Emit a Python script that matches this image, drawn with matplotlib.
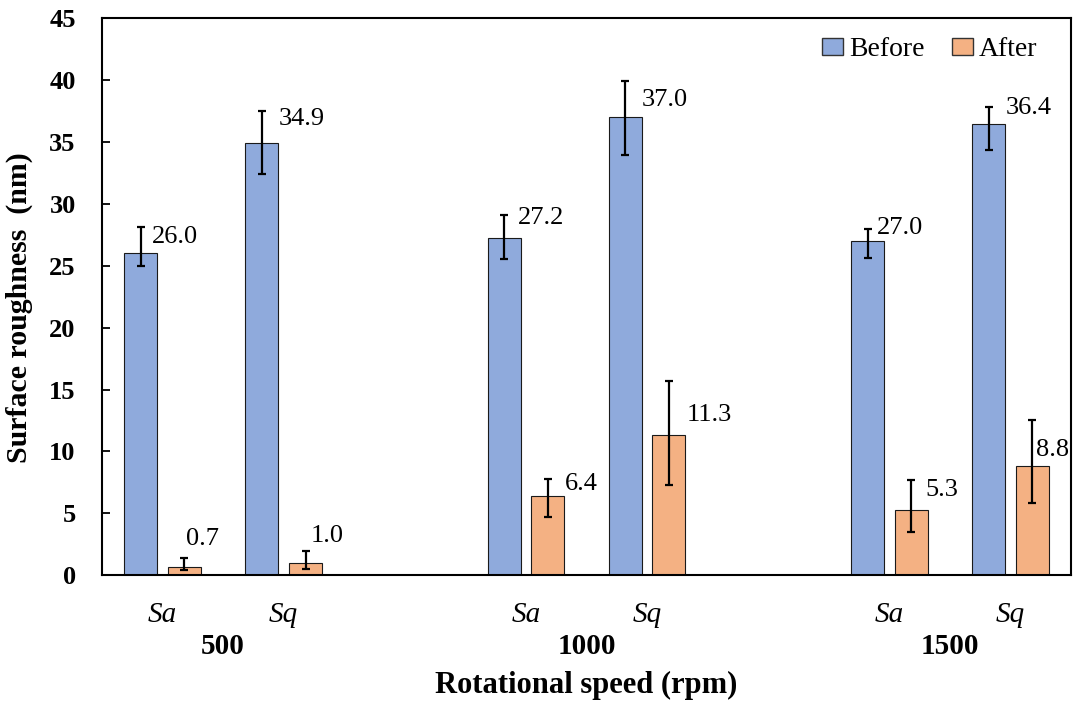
import matplotlib
matplotlib.use("Agg")
import matplotlib.pyplot as plt
from matplotlib.patches import Patch
from matplotlib.transforms import blended_transform_factory

# surface roughness before / after, per rotational speed and parameter
speeds = ["500", "1000", "1500"]
params = ["Sa", "Sq"]

before = [26.0, 34.9, 27.2, 37.0, 27.0, 36.4]
after = [0.7, 1.0, 6.4, 11.3, 5.3, 8.8]

before_err_low = [1.0, 2.5, 1.65, 3.1, 1.4, 2.1]
before_err_high = [2.1, 2.6, 1.9, 2.9, 1.0, 1.45]
after_err_low = [0.3, 0.5, 1.7, 4.0, 1.8, 3.0]
after_err_high = [0.7, 1.0, 1.4, 4.4, 2.4, 3.7]

# label nudges (points): right of bar centre, above bar top
before_label_offsets = [(8, 12), (12, 17), (10, 15), (12, 12), (6.5, 9), (12, 12)]
after_label_offsets = [(1, 20), (3.5, 19.5), (12, 9), (12.5, 15), (10, 14), (2.5, 12)]

blue = "#8FAADC"
orange = "#F4B183"

plt.rcParams["font.family"] = ["Liberation Serif", "DejaVu Serif"]

fig = plt.figure(figsize=(10.74, 7.02), dpi=100)
ax = fig.add_axes([0.095, 0.1805, 0.9022, 0.7939])

# one empty slot between speed groups
pos = [g * 3 + j for g in range(len(speeds)) for j in range(len(params))]
width = 0.272
shift = 0.18
x_before = [p - shift for p in pos]
x_after = [p + shift for p in pos]

err_kw = dict(ecolor="black", elinewidth=1.6, capsize=3.2, capthick=1.6)
ax.bar(x_before, before, width, color=blue, edgecolor="#1a1a1a", linewidth=0.8,
       yerr=[before_err_low, before_err_high], error_kw=err_kw, zorder=2)
ax.bar(x_after, after, width, color=orange, edgecolor="#1a1a1a", linewidth=0.8,
       yerr=[after_err_low, after_err_high], error_kw=err_kw, zorder=2)

for xs, vals, offs in [(x_before, before, before_label_offsets),
                       (x_after, after, after_label_offsets)]:
    for x, v, (dx, dy) in zip(xs, vals, offs):
        ax.annotate(f"{v:.1f}", xy=(x, v), xytext=(dx, dy), textcoords="offset points",
                    ha="left", va="center", fontsize=19, zorder=4)

ax.set_xlim(-0.5, 7.5)
ax.set_ylim(0, 45)
ax.set_yticks(range(0, 46, 5))
ax.tick_params(axis="y", direction="in", length=6, width=1.3, labelsize=19, pad=19)
for lab in ax.get_yticklabels():
    lab.set_fontweight("bold")

ax.set_xticks(pos)
ax.set_xticklabels(params * len(speeds), fontsize=21, fontstyle="italic")
ax.tick_params(axis="x", length=0, pad=19)

for s in ax.spines.values():
    s.set_linewidth(1.5)

trans = blended_transform_factory(ax.transData, ax.transAxes)
for g, sp in enumerate(speeds):
    ax.text(g * 3 + 0.5, -0.128, sp, transform=trans, ha="center", va="center",
            fontsize=21, fontweight="bold")

ax.set_xlabel("Rotational speed (rpm)", fontsize=22, fontweight="bold")
ax.xaxis.set_label_coords(0.5, -0.172)
ax.set_ylabel("Surface roughness  (nm)", fontsize=21.5, fontweight="bold")
ax.yaxis.set_label_coords(-0.071, 0.48)

handles = [Patch(facecolor=blue, edgecolor="#333333", linewidth=1.0, label="Before"),
           Patch(facecolor=orange, edgecolor="#333333", linewidth=1.0, label="After")]
ax.legend(handles=handles, loc="upper right", ncol=2, frameon=False, fontsize=20,
          handlelength=0.75, handleheight=0.6, handletextpad=0.2, columnspacing=1.0,
          bbox_to_anchor=(0.985, 1.0), borderaxespad=0.3)

fig.savefig("out.png", dpi=100)
